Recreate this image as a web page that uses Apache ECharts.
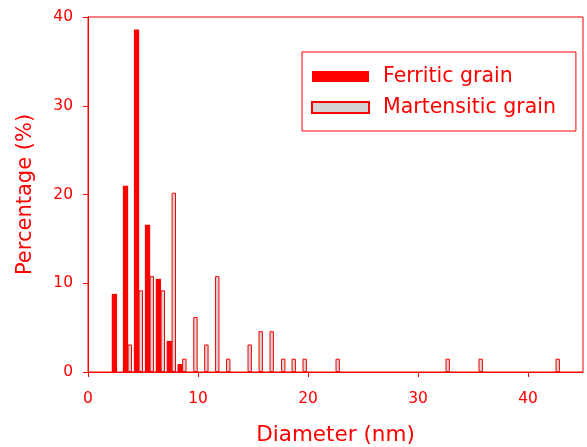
<!DOCTYPE html>
<html>
<head>
<meta charset="utf-8">
<script src="https://cdn.jsdelivr.net/npm/echarts@6.0.0/dist/echarts.min.js"></script>
<style>
  html, body { margin: 0; padding: 0; background: #ffffff; }
  #grainChart { width: 587px; height: 447px; }
</style>
</head>
<body>
<div id="grainChart"></div>
<script>
// diameters (nm) and percentages
var ferriticX = [2.36, 3.37, 4.37, 5.37, 6.36, 7.35, 8.34];
var ferriticY = [8.8, 21.0, 38.6, 16.6, 10.5, 3.5, 0.9];
var martensiticX = [3.8, 4.8, 5.8, 6.8, 7.8, 8.76, 9.77, 10.76, 11.75, 12.75, 14.7, 15.7, 16.7, 17.75, 18.7, 19.7, 22.7, 32.7, 35.7, 42.7];
var martensiticY = [3.1, 9.2, 10.8, 9.2, 20.2, 1.5, 6.2, 3.1, 10.8, 1.5, 3.1, 4.6, 4.6, 1.5, 1.5, 1.5, 1.5, 1.5, 1.5, 1.5];
var xTicks = [0, 10, 20, 30, 40];
var yTicks = [0, 10, 20, 30, 40];

var red = '#ff0000';
var fontName = 'DejaVu Sans';

function pairs(xs, ys) {
  var out = [];
  for (var i = 0; i < xs.length; i++) {
    out.push([xs[i], ys[i]]);
  }
  return out;
}

var myChart = echarts.init(document.getElementById('grainChart'));
var option = {
  backgroundColor: '#ffffff',
  animation: false,
  grid: {
    left: 88,
    right: 4,
    top: 17,
    bottom: 75,
    show: true,
    borderColor: red,
    borderWidth: 1,
    outerBoundsMode: 'none'
  },
  legend: {
    orient: 'vertical',
    left: 302,
    top: 52,
    padding: [14, 20, 13, 9],
    itemWidth: 57,
    itemHeight: 11,
    itemGap: 10,
    icon: 'rect',
    borderColor: red,
    borderWidth: 1,
    textStyle: {
      color: red,
      fontFamily: fontName,
      fontSize: 20.5,
      padding: [0, 0, 0, 9]
    },
    data: ['Ferritic grain', 'Martensitic grain']
  },
  xAxis: {
    type: 'value',
    min: 0,
    max: 45,
    interval: 10,
    name: 'Diameter (nm)',
    nameLocation: 'middle',
    nameGap: 52,
    nameTextStyle: { color: red, fontFamily: fontName, fontSize: 21.5 },
    splitLine: { show: false },
    axisLine: { lineStyle: { color: red, width: 1 } },
    axisTick: { show: true, length: 5, lineStyle: { color: red } },
    axisLabel: {
      color: red,
      fontFamily: fontName,
      fontSize: 15.5,
      margin: 19,
      showMaxLabel: false,
      formatter: function (v) { return xTicks.indexOf(v) >= 0 ? String(v) : ''; }
    }
  },
  yAxis: {
    type: 'value',
    min: 0,
    max: 40,
    interval: 10,
    name: 'Percentage (%)',
    nameLocation: 'middle',
    nameGap: 52,
    nameTextStyle: { color: red, fontFamily: fontName, fontSize: 21 },
    splitLine: { show: false },
    axisLine: { show: true, lineStyle: { color: red, width: 1 } },
    axisTick: { show: true, length: 5, lineStyle: { color: red } },
    axisLabel: {
      color: red,
      fontFamily: fontName,
      fontSize: 15.5,
      margin: 15,
      formatter: function (v) { return yTicks.indexOf(v) >= 0 ? String(v) : ''; }
    }
  },
  series: [{
    name: 'Ferritic grain',
    type: 'bar',
    barWidth: 5.3,
    barGap: '-100%',
    itemStyle: { color: red },
    data: pairs(ferriticX, ferriticY)
  }, {
    name: 'Martensitic grain',
    type: 'bar',
    barWidth: 4.4,
    barGap: '-100%',
    itemStyle: { color: '#d4d4d4', borderColor: red, borderWidth: 1 },
    data: pairs(martensiticX, martensiticY)
  }]
};
myChart.setOption(option);
</script>
</body>
</html>
